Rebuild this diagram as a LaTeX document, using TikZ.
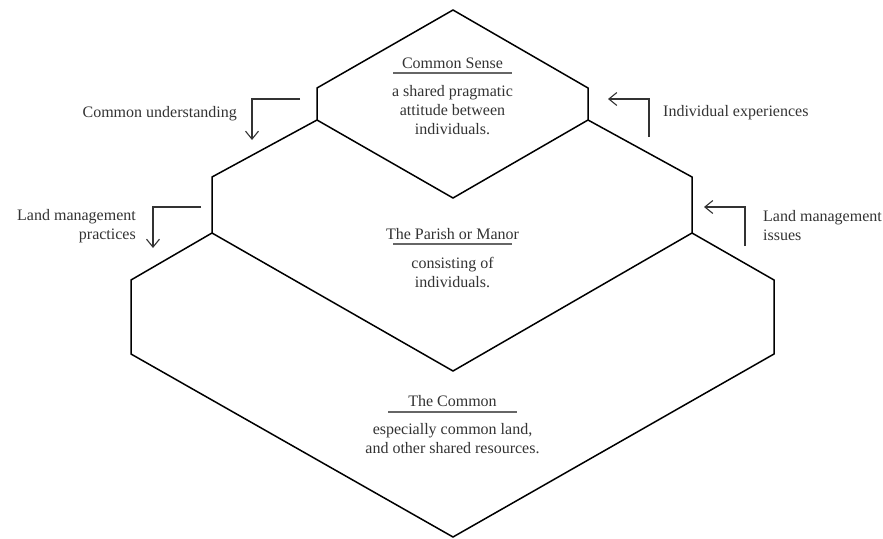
\documentclass[tikz,border=0pt]{standalone}
\usepackage{fontspec}
\setmainfont{Liberation Serif}
\usetikzlibrary{arrows.meta}
\definecolor{ink}{HTML}{333333}
\definecolor{rulegray}{HTML}{666666}
\tikzset{
  edge/.style={draw=black, line width=1.5pt, line join=miter},
  label/.style={text=ink, font=\fontsize{16}{19}\selectfont, inner sep=0pt},
  body/.style={label, align=center},
  flow/.style={draw=ink, line width=1.2pt, -{Straight Barb[length=8pt,width=13pt,line width=1.1pt]}},
  rule/.style={draw=rulegray, line width=1.3pt}
}
\begin{document}
\begin{tikzpicture}[x=1pt,y=-1pt]
\useasboundingbox (0,0) rectangle (883,538);

% top tier: common sense
\draw[edge] (453,10) -- (588,88) -- (588,120) -- (453,198) -- (317,120) -- (317,88) -- cycle;
% middle tier: the parish or manor
\draw[edge] (317,120) -- (212,177) -- (212,233) -- (453,371) -- (692,233) -- (692,177) -- (588,120);
% bottom tier: the common
\draw[edge] (212,233) -- (131,280) -- (131,354) -- (453,537) -- (774,354) -- (774,280) -- (692,233);

% tier labels
\node[label] (cs) at (452.5,63) {Common Sense};
\draw[rule] (393,73) -- (512,73);
\node[body] (csb) at (452.5,110) {a shared pragmatic\\attitude between\\individuals.};

\node[label] (pm) at (452.5,234) {The Parish or Manor};
\draw[rule] (393,244) -- (512,244);
\node[body] (pmb) at (452.5,272) {consisting of\\individuals.};

\node[label] (cm) at (452.5,401) {The Common};
\draw[rule] (388,412) -- (517,412);
\node[body] (cmb) at (452.5,439) {especially common land,\\and other shared resources.};

% side flows, left
\coordinate (cuA) at (300,99);
\coordinate (cuB) at (252,99);
\coordinate (cuC) at (252,140);
\draw[flow] (cuA) -- (cuB) -- (cuC);
\node[label, anchor=east] (cu) at (237,114) {Common understanding};

\coordinate (lpA) at (201,207);
\coordinate (lpB) at (153,207);
\coordinate (lpC) at (153,248);
\draw[flow] (lpA) -- (lpB) -- (lpC);
\node[body, align=right, anchor=east] (lp) at (136,226) {Land management\\practices};

% side flows, right
\coordinate (ieA) at (649,137);
\coordinate (ieB) at (649,99);
\coordinate (ieC) at (608,99);
\draw[flow] (ieA) -- (ieB) -- (ieC);
\node[label, anchor=west] (ie) at (663,113) {Individual experiences};

\coordinate (liA) at (745,246);
\coordinate (liB) at (745,207);
\coordinate (liC) at (704,207);
\draw[flow] (liA) -- (liB) -- (liC);
\node[body, align=left, anchor=west] (li) at (763,226) {Land management\\issues};
\end{tikzpicture}
\end{document}
